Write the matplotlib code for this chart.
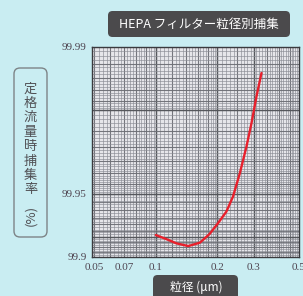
import numpy as np
import matplotlib
matplotlib.use("Agg")
import matplotlib.pyplot as plt
from matplotlib.patches import FancyBboxPatch

# ---- data ----
particle_um = [0.100, 0.113, 0.126, 0.144, 0.164, 0.183, 0.201, 0.221,
               0.238, 0.257, 0.277, 0.293, 0.310, 0.328]
efficiency = [99.9214, 99.9177, 99.9139, 99.9113, 99.9145, 99.9223, 99.9309,
              99.9392, 99.9484, 99.9600, 99.9702, 99.9769, 99.9828, 99.9867]
x_ticks = [0.05, 0.07, 0.1, 0.2, 0.3, 0.5]
x_tick_labels = ["0.05", "0.07", "0.1", "0.2", "0.3", "0.5"]
y_ticks = [99.9, 99.95, 99.99]
y_tick_labels = ["99.9", "99.95", "99.99"]
title = "HEPA フィルター粒径別捕集"
xlabel = "粒径 (μm)"
ylabel_chars = list("定格流量時捕集率")

BG = "#c9edf2"
W, H = 303, 296
fig = plt.figure(figsize=(W / 100, H / 100), dpi=100, facecolor=BG)
plt.rcParams['font.family'] = ['Noto Sans CJK JP', 'DejaVu Sans']

ax = fig.add_axes([92 / W, 1 - 257 / H, 207 / W, 210 / H])
ax.set_facecolor("#e6e6ea")


def fwd(e):
    e = np.asarray(e, dtype=float)
    return -np.log10(np.clip(100.0 - e, 1e-9, None))


def inv(v):
    return 100.0 - 10.0 ** (-np.asarray(v, dtype=float))


ax.set_xscale("log")
ax.set_yscale("function", functions=(fwd, inv))
ax.set_xlim(0.0488, 0.498)
ax.set_ylim(99.9, 99.99)

# graph-paper grid (vertical)
fine_v = list(np.arange(0.045, 0.1, 0.0025)) + list(np.arange(0.1, 0.2, 0.005)) + \
    list(np.arange(0.2, 0.5, 0.01))
for v in fine_v:
    ax.axvline(v, color="#8a8c94", lw=0.6, alpha=0.75, zorder=1)
for v in list(np.arange(0.05, 0.1, 0.01)) + list(np.arange(0.1, 0.2, 0.02)) + \
        list(np.arange(0.2, 0.5, 0.05)):
    ax.axvline(v, color="#6a6c72", lw=0.8, alpha=0.85, zorder=1)
for v in [0.1, 0.2, 0.3]:
    ax.axvline(v, color="#55575c", lw=1.0, zorder=1)

# graph-paper grid (horizontal) in penetration terms
pen_fine = list(np.arange(0.01, 0.02, 0.0005)) + list(np.arange(0.02, 0.05, 0.001)) + \
    list(np.arange(0.05, 0.1, 0.002))
for p in pen_fine:
    ax.axhline(100 - p, color="#8a8c94", lw=0.6, alpha=0.75, zorder=1)
for p in list(np.arange(0.01, 0.02, 0.002)) + list(np.arange(0.02, 0.1, 0.005)):
    ax.axhline(100 - p, color="#6a6c72", lw=0.8, alpha=0.85, zorder=1)
for p in [0.02, 0.05, 0.08]:
    ax.axhline(100 - p, color="#55575c", lw=1.0, zorder=1)

ax.plot(particle_um, efficiency, color="#e8202c", lw=1.7, zorder=3,
        solid_capstyle="round", solid_joinstyle="round")

ax.set_xticks(x_ticks)
ax.set_xticklabels(x_tick_labels)
ax.xaxis.set_minor_locator(matplotlib.ticker.NullLocator())
ax.set_yticks(y_ticks)
ax.set_yticklabels(y_tick_labels)
ax.yaxis.set_minor_locator(matplotlib.ticker.NullLocator())
ax.tick_params(length=0, pad=4, labelsize=8, labelcolor="#4e4450")
for lab in ax.get_xticklabels() + ax.get_yticklabels():
    lab.set_fontfamily("Liberation Serif")
for s in ax.spines.values():
    s.set_color("#3a3a3e")
    s.set_linewidth(1.0)

# title box
fig.patches.append(FancyBboxPatch((108 / W, 1 - 37 / H), 182 / W, 26 / H,
                                  boxstyle="round,pad=0,rounding_size=0.015",
                                  transform=fig.transFigure, facecolor="#4b4a4c",
                                  edgecolor="none"))
fig.text(199 / W, 1 - 24 / H, title, color="white", fontsize=9,
         ha="center", va="center")

# x label box
fig.patches.append(FancyBboxPatch((153 / W, 1 - 300 / H), 85 / W, 25 / H,
                                  boxstyle="round,pad=0,rounding_size=0.015",
                                  transform=fig.transFigure, facecolor="#4b4a4c",
                                  edgecolor="none"))
fig.text(196 / W, 1 - 287 / H, xlabel, color="white", fontsize=8.5,
         ha="center", va="center")

# y label box
fig.patches.append(FancyBboxPatch((14 / W, 1 - 237 / H), 33 / W, 169 / H,
                                  boxstyle="round,pad=0,rounding_size=0.02",
                                  transform=fig.transFigure, facecolor=BG,
                                  edgecolor="#7d8487", lw=1.0))
for i, ch in enumerate(ylabel_chars):
    fig.text(30.5 / W, 1 - (89 + i * 14.4) / H, ch, color="#505054",
             fontsize=9.5, ha="center", va="center")
fig.text(30.5 / W, 1 - 215 / H, "(%)", color="#505054", fontsize=9.5,
         ha="center", va="center", rotation=90)

fig.savefig("out.png", dpi=100, facecolor=BG)
